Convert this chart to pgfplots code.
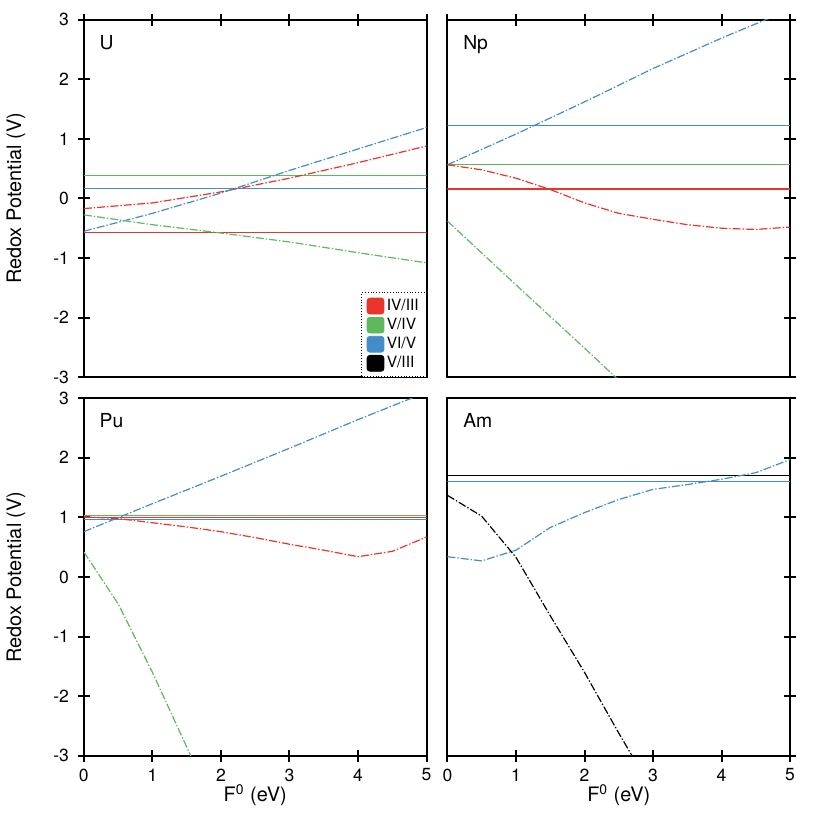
\documentclass[border=0pt]{standalone}
\usepackage{pgfplots}
\pgfplotsset{compat=1.18}
\usepgfplotslibrary{groupplots}
\usepackage{fontspec}
\setmainfont{TeX Gyre Heros}
\definecolor{cred}{RGB}{232,52,42}
\definecolor{cgreen}{RGB}{93,185,92}
\definecolor{cblue}{RGB}{66,140,201}
\pgfplotsset{
  dd/.style={dash pattern=on 4pt off 1pt on 0.7pt off 1pt, line width=0.6pt},
  sl/.style={line width=0.6pt},
}
\newcommand{\panel}[1]{\node[anchor=north west, inner sep=0pt, font=\fontsize{9.7}{11}\selectfont] at (rel axis cs:0.045,0.958) {#1};}
\newcommand{\sq}[1]{\addlegendimage{legend image code/.code={\fill[#1,rounded corners=1.5pt] (0pt,-4pt) rectangle (8.5pt,4pt);}}}

\begin{document}
\begin{tikzpicture}
\begin{groupplot}[
  group style={group size=2 by 2, horizontal sep=10.5pt, vertical sep=10.5pt},
  scale only axis, width=172pt, height=179.5pt,
  xmin=0, xmax=5, ymin=-3, ymax=3,
  xtick={0,1,2,3,4,5}, ytick={-3,-2,-1,0,1,2,3},
  axis line style={line width=1pt},
  tick align=center, major tick length=6pt,
  every tick/.style={line width=1pt, black},
  /pgf/number format/assume math mode=true,
  ticklabel style={font=\fontsize{8.8}{10}\selectfont},
  yticklabel style={xshift=-1pt},
  label style={font=\fontsize{10}{12}\selectfont},
  ylabel style={at={(axis description cs:-0.198,0.5)}, anchor=center},
  xlabel style={at={(axis description cs:0.5,-0.111)}, anchor=center},
]
% U
\nextgroupplot[xtick pos=right, ytick pos=left, xticklabels={},
  ylabel={Redox Potential (V)},
  legend style={at={(rel axis cs:1,0)}, anchor=south east, draw=black, densely dotted,
    font=\fontsize{7.8}{8}\selectfont, inner xsep=2.5pt, inner ysep=2pt, row sep=0pt,
    nodes={inner sep=1.2pt}, cells={anchor=west},
    /tikz/every even column/.append style={column sep=1.5pt}},
  legend entries={IV/III, V/IV, VI/V, V/III}]
\sq{cred}
\sq{cgreen}
\sq{cblue}
\sq{black}
\addplot[cgreen, sl] coordinates {(0,0.39) (5,0.39)};
\addplot[cblue, sl] coordinates {(0,0.165) (5,0.165)};
\addplot[cred, sl] coordinates {(0,-0.565) (5,-0.565)};
\addplot[cred, dd] coordinates {(0,-0.17) (1,-0.075) (2,0.11) (3,0.34) (4,0.60) (5,0.88)};
\addplot[cblue, dd] coordinates {(0,-0.55) (1,-0.25) (2,0.09) (3,0.47) (4,0.83) (5,1.19)};
\addplot[cgreen, dd] coordinates {(0,-0.276) (1,-0.44) (2,-0.58) (3,-0.73) (4,-0.91) (5,-1.08)};
\panel{U}
% Np
\nextgroupplot[xtick pos=right, ytick pos=right, xticklabels={}, yticklabels={}]
\addplot[cblue, sl] coordinates {(0,1.23) (5,1.23)};
\addplot[cgreen, sl] coordinates {(0,0.565) (5,0.565)};
\addplot[cred, sl] coordinates {(0,0.16) (5,0.16)};
\addplot[cblue, dd] coordinates {(0,0.565) (1,1.08) (2,1.62) (3,2.18) (4,2.69) (5,3.17)};
\addplot[cred, dd] coordinates {(0,0.565) (0.5,0.48) (1,0.34) (1.5,0.15) (2,-0.075) (2.5,-0.25) (3,-0.35) (3.5,-0.44) (4,-0.50) (4.5,-0.52) (5,-0.48)};
\addplot[cgreen, dd] coordinates {(0,-0.38) (1,-1.45) (2,-2.51) (2.5,-3.05)};
\panel{Np}
% Pu
\nextgroupplot[xtick pos=left, ytick pos=left,
  ylabel={Redox Potential (V)}, xlabel={F\textsuperscript{0} (eV)}]
\addplot[cgreen, sl] coordinates {(0,1.03) (5,1.03)};
\addplot[cred, sl] coordinates {(0,1.0) (5,1.0)};
\addplot[cblue, sl] coordinates {(0,0.97) (5,0.97)};
\addplot[cblue, dd] coordinates {(0,0.76) (1,1.23) (2,1.69) (3,2.16) (4,2.64) (5,3.1)};
\addplot[cred, dd] coordinates {(0,1.01) (0.5,0.98) (1,0.91) (1.5,0.84) (2,0.76) (2.5,0.66) (3,0.55) (3.5,0.45) (4,0.34) (4.5,0.43) (5,0.67)};
\addplot[cgreen, dd] coordinates {(0,0.42) (0.5,-0.45) (1,-1.6) (1.5,-2.85) (2,-4.1)};
\panel{Pu}
% Am
\nextgroupplot[xtick pos=left, ytick pos=right, yticklabels={},
  xlabel={F\textsuperscript{0} (eV)}]
\addplot[black, sl] coordinates {(0,1.70) (5,1.70)};
\addplot[cblue, sl] coordinates {(0,1.60) (5,1.60)};
\addplot[cblue, dd] coordinates {(0,0.34) (0.5,0.27) (1,0.45) (1.5,0.83) (2,1.08) (2.5,1.30) (3,1.47) (3.5,1.55) (4,1.64) (4.5,1.75) (5,1.97)};
\addplot[black, dd] coordinates {(0,1.37) (0.5,1.02) (1,0.33) (1.5,-0.65) (2,-1.6) (2.5,-2.62) (3,-3.6)};
\panel{Am}
\end{groupplot}
\path (group c1r1.north west) ++(-40.5pt,8pt);
\path (group c2r2.south east) ++(13.5pt,-30.5pt);
\end{tikzpicture}
\end{document}
